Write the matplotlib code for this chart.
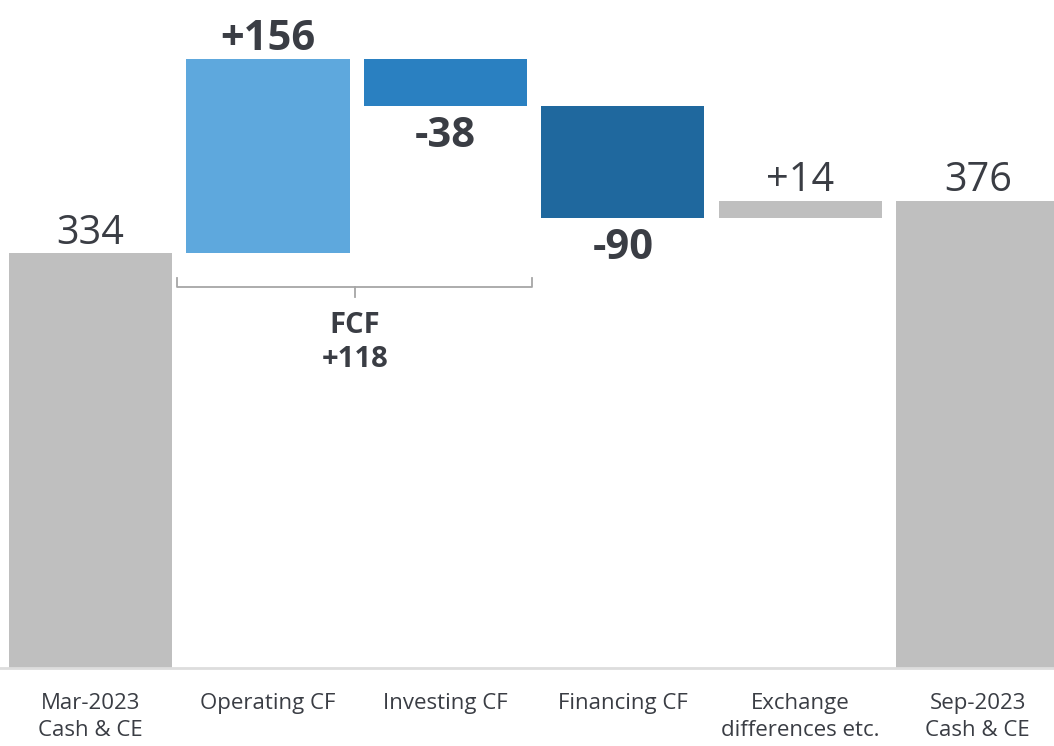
import matplotlib
matplotlib.use("Agg")
import matplotlib.pyplot as plt

plt.rcParams['font.family'] = ['Open Sans', 'DejaVu Sans']

categories = ["Mar-2023\nCash & CE", "Operating CF", "Investing CF",
              "Financing CF", "Exchange\ndifferences etc.", "Sep-2023\nCash & CE"]
start_value = 334
changes = [156, -38, -90, 14]
end_value = 376
bar_colors = ["#BFBFBF", "#5EA8DD", "#2A80C1", "#1F689E", "#BFBFBF", "#BFBFBF"]
bold_labels = [False, True, True, True, False, False]

TEXT = "#3A3D44"

fig = plt.figure(figsize=(10.54, 7.46), dpi=100)
ax = fig.add_axes([0, (746 - 668) / 746, 1, 668 / 746])

bottoms = [0]
heights = [start_value]
labels = [f"{start_value}"]
running = start_value
for c in changes:
    lo = min(running, running + c)
    bottoms.append(lo)
    heights.append(abs(c))
    labels.append(f"{c:+d}")
    running += c
bottoms.append(0)
heights.append(end_value)
labels.append(f"{end_value}")

x = list(range(len(categories)))
ax.bar(x, heights, bottom=bottoms, width=0.92, color=bar_colors, zorder=2)

for i in x:
    top = bottoms[i] + heights[i]
    is_neg = (1 <= i <= len(changes)) and changes[i - 1] < 0
    bold = bold_labels[i]
    size = 30 if bold else 28.5
    if is_neg:
        ax.annotate(labels[i], (i, bottoms[i]), xytext=(0, -41 * 0.72),
                    textcoords="offset points", ha="center", va="baseline",
                    fontsize=size, fontweight="bold" if bold else "normal", color=TEXT)
    else:
        ax.annotate(labels[i], (i, top), xytext=(0, 9.5 * 0.72),
                    textcoords="offset points", ha="center", va="baseline",
                    fontsize=size, fontweight="bold" if bold else "normal", color=TEXT)

# FCF bracket under Operating + Investing
fcf = changes[0] + changes[1]
yb = start_value - 27
xl, xr = 0.49, 2.49
xm = (xl + xr) / 2
ax.plot([xl, xl, xr, xr], [yb + 7, yb, yb, yb + 7], color="#A6A6A6", lw=1.3,
        solid_joinstyle="round", zorder=3)
ax.plot([xm, xm], [yb, yb - 8.5], color="#A6A6A6", lw=1.3, zorder=3)
ax.text(xm, yb - 20, f"FCF\n{fcf:+d}", ha="center", va="top", fontsize=21,
        fontweight="bold", color=TEXT, linespacing=1.2)

ax.set_xlim(-0.51, 5.43)
ax.set_ylim(0, 668 / 1.2425)
ax.set_xticks(x)
ax.set_xticklabels(categories, fontsize=16, color=TEXT, linespacing=1.35)
ax.tick_params(axis="x", length=0, pad=18)
ax.set_yticks([])
for s in ["top", "right", "left"]:
    ax.spines[s].set_visible(False)
ax.spines["bottom"].set_color("#DDDDDD")
ax.spines["bottom"].set_linewidth(2)
ax.set_facecolor("white")

fig.savefig("out.png", dpi=100, facecolor="white")
